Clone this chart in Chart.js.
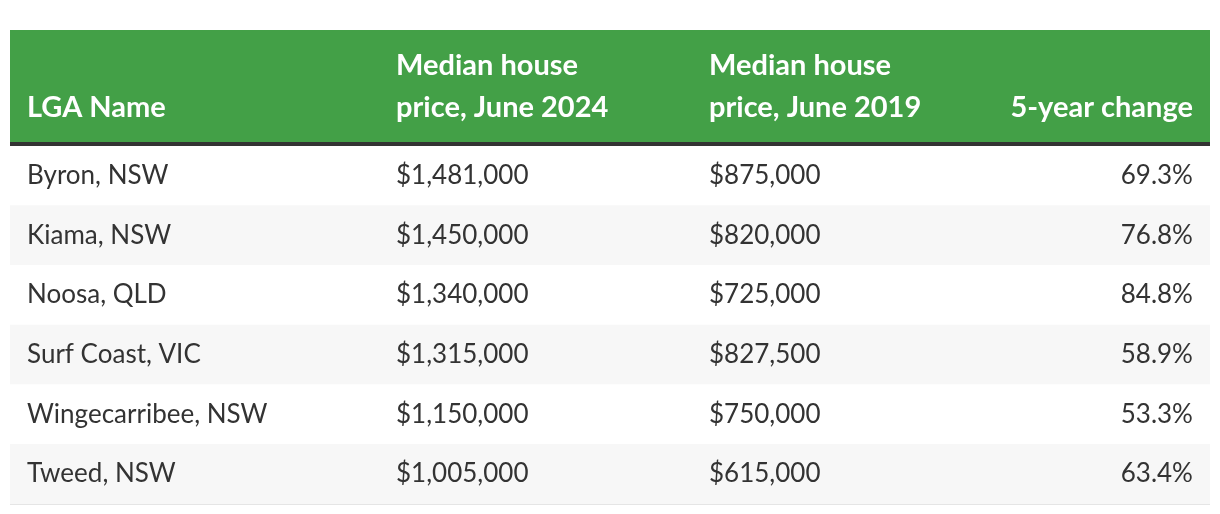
<!DOCTYPE html>
<html>
<head>
<meta charset="utf-8">
<script src="https://cdn.jsdelivr.net/npm/chart.js@4/dist/chart.umd.min.js"></script>
<style>
  html, body { margin: 0; padding: 0; background: #ffffff; }
  #wrap { width: 1220px; height: 514px; }
</style>
</head>
<body>
<div id="wrap"><canvas id="c" width="1220" height="514"></canvas></div>
<script>
// ---- Data ----
const lgaNames = ['Byron, NSW', 'Kiama, NSW', 'Noosa, QLD', 'Surf Coast, VIC', 'Wingecarribee, NSW', 'Tweed, NSW'];
const price2024 = [1481000, 1450000, 1340000, 1315000, 1150000, 1005000];
const price2019 = [875000, 820000, 725000, 827500, 750000, 615000];
const change5yr = [69.3, 76.8, 84.8, 58.9, 53.3, 63.4];
const headerLabels = [['LGA Name'], ['Median house', 'price, June 2024'], ['Median house', 'price, June 2019'], ['5-year change']];

// ---- Layout / style ----
const FONT = 'Lato, "Noto Sans", sans-serif';
const colAnchor = [1.42, 32.17, 58.25, 98.58];      // x-scale units (0..100)
const colAlign = ['left', 'left', 'left', 'right'];
const HEADER_H = 112, RULE_H = 4, LINE_H = 42;
const GREEN = '#43a047', RULE = '#333333', TEXT = '#333333';

const fmtMoney = v => '$' + v.toLocaleString('en-US');
const fmtPct = v => v.toFixed(1) + '%';

const cells = lgaNames.map((n, i) => [n, fmtMoney(price2024[i]), fmtMoney(price2019[i]), fmtPct(change5yr[i])]);

const tablePlugin = {
  id: 'tableText',
  afterDraw(chart) {
    const { ctx, chartArea, scales } = chart;
    const xs = scales.x, ys = scales.y;
    ctx.save();
    // header band
    const headTop = chartArea.top - RULE_H - HEADER_H;
    ctx.fillStyle = GREEN;
    ctx.fillRect(chartArea.left, headTop, chartArea.right - chartArea.left, HEADER_H);
    ctx.fillStyle = RULE;
    ctx.fillRect(chartArea.left, chartArea.top - RULE_H, chartArea.right - chartArea.left, RULE_H);
    // header text
    ctx.fillStyle = '#ffffff';
    ctx.font = 'bold 29px ' + FONT;
    ctx.textBaseline = 'alphabetic';
    const lastBase = chartArea.top - RULE_H - 25;
    headerLabels.forEach((lines, c) => {
      ctx.textAlign = colAlign[c];
      const x = xs.getPixelForValue(colAnchor[c]);
      lines.forEach((t, k) => {
        const y = lastBase - (lines.length - 1 - k) * LINE_H;
        ctx.fillText(t, x, y);
      });
    });
    // body text
    ctx.fillStyle = TEXT;
    ctx.font = '26px ' + FONT;
    cells.forEach((row, r) => {
      const y = ys.getPixelForValue(r) + 8;
      row.forEach((t, c) => {
        ctx.textAlign = colAlign[c];
        ctx.fillText(t, xs.getPixelForValue(colAnchor[c]), y);
      });
    });
    ctx.restore();
  }
};

new Chart(document.getElementById('c'), {
  type: 'bar',
  data: {
    labels: lgaNames,
    datasets: [{
      data: lgaNames.map(() => [0, 100]),
      backgroundColor: lgaNames.map((_, i) => i % 2 === 0 ? '#ffffff' : '#f7f7f7'),
      borderWidth: 0,
      barPercentage: 1,
      categoryPercentage: 1
    }]
  },
  options: {
    indexAxis: 'y',
    responsive: false,
    animation: false,
    layout: { padding: { top: 146, bottom: 10, left: 10, right: 10 } },
    plugins: { legend: { display: false }, tooltip: { enabled: false } },
    scales: {
      x: { type: 'linear', min: 0, max: 100, display: false },
      y: {
        type: 'category',
        offset: true,
        z: 1,
        border: { display: false },
        ticks: { display: false },
        grid: {
          offset: true,
          drawTicks: false,
          lineWidth: 2,
          color: (ctx) => (ctx.index === 0 || ctx.index === lgaNames.length) ? 'rgba(0,0,0,0)' : '#e5e5e5'
        }
      }
    }
  },
  plugins: [tablePlugin]
});
</script>
</body>
</html>
